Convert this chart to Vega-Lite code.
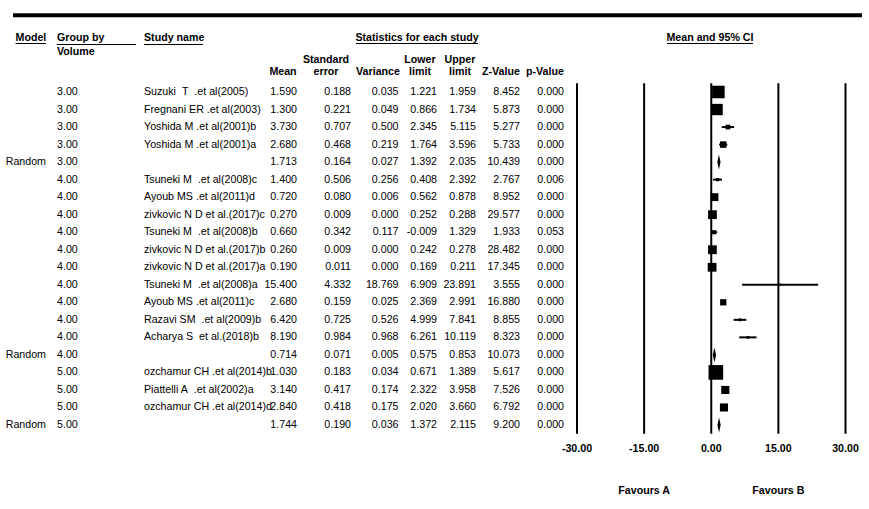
{
"$schema": "https://vega.github.io/schema/vega-lite/v6.json",
"width": 869, "height": 509,
"autosize": {"type": "none"}, "padding": 0, "background": "white",
"config": {
  "view": {"stroke": null},
  "locale": {"number": {"decimal": ".", "thousands": ",", "grouping": [3], "currency": ["$", ""], "minus": "-"}},
  "text": {"font": "Liberation Sans", "fontSize": 10.67, "color": "black", "baseline": "middle"},
  "rule": {"color": "black"}
},
"datasets": {
  "studies": [
    {"row": 1, "model": "", "group": 3, "study": "Suzuki\u00a0\u00a0T\u00a0\u00a0.et al(2005)", "mean": 1.590, "se": 0.188, "variance": 0.035, "lower": 1.221, "upper": 1.959, "z": 8.452, "p": 0.000, "weight": 46.3, "kind": "study"},
    {"row": 2, "model": "", "group": 3, "study": "Fregnani ER .et al(2003)", "mean": 1.300, "se": 0.221, "variance": 0.049, "lower": 0.866, "upper": 1.734, "z": 5.873, "p": 0.000, "weight": 37.4, "kind": "study"},
    {"row": 3, "model": "", "group": 3, "study": "Yoshida M .et al(2001)b", "mean": 3.730, "se": 0.707, "variance": 0.500, "lower": 2.345, "upper": 5.115, "z": 5.277, "p": 0.000, "weight": 5.2, "kind": "study"},
    {"row": 4, "model": "", "group": 3, "study": "Yoshida M .et al(2001)a", "mean": 2.680, "se": 0.468, "variance": 0.219, "lower": 1.764, "upper": 3.596, "z": 5.733, "p": 0.000, "weight": 11.2, "kind": "study"},
    {"row": 5, "model": "Random", "group": 3, "study": "", "mean": 1.713, "se": 0.164, "variance": 0.027, "lower": 1.392, "upper": 2.035, "z": 10.439, "p": 0.000, "weight": null, "kind": "summary"},
    {"row": 6, "model": "", "group": 4, "study": "Tsuneki M\u00a0\u00a0.et al(2008)c", "mean": 1.400, "se": 0.506, "variance": 0.256, "lower": 0.408, "upper": 2.392, "z": 2.767, "p": 0.006, "weight": 1.8, "kind": "study"},
    {"row": 7, "model": "", "group": 4, "study": "Ayoub MS .et al(2011)d", "mean": 0.720, "se": 0.080, "variance": 0.006, "lower": 0.562, "upper": 0.878, "z": 8.952, "p": 0.000, "weight": 17.2, "kind": "study"},
    {"row": 8, "model": "", "group": 4, "study": "zivkovic N D et al.(2017)c", "mean": 0.270, "se": 0.009, "variance": 0.000, "lower": 0.252, "upper": 0.288, "z": 29.577, "p": 0.000, "weight": 21.8, "kind": "study"},
    {"row": 9, "model": "", "group": 4, "study": "Tsuneki M\u00a0\u00a0.et al(2008)b", "mean": 0.660, "se": 0.342, "variance": 0.117, "lower": -0.009, "upper": 1.329, "z": 1.933, "p": 0.053, "weight": 3.6, "kind": "study"},
    {"row": 10, "model": "", "group": 4, "study": "zivkovic N D et al.(2017)b", "mean": 0.260, "se": 0.009, "variance": 0.000, "lower": 0.242, "upper": 0.278, "z": 28.482, "p": 0.000, "weight": 21.8, "kind": "study"},
    {"row": 11, "model": "", "group": 4, "study": "zivkovic N D et al.(2017)a", "mean": 0.190, "se": 0.011, "variance": 0.000, "lower": 0.169, "upper": 0.211, "z": 17.345, "p": 0.000, "weight": 21.8, "kind": "study"},
    {"row": 12, "model": "", "group": 4, "study": "Tsuneki M\u00a0\u00a0.et al(2008)a", "mean": 15.400, "se": 4.332, "variance": 18.769, "lower": 6.909, "upper": 23.891, "z": 3.555, "p": 0.000, "weight": 0.03, "kind": "study"},
    {"row": 13, "model": "", "group": 4, "study": "Ayoub MS .et al(2011)c", "mean": 2.680, "se": 0.159, "variance": 0.025, "lower": 2.369, "upper": 2.991, "z": 16.880, "p": 0.000, "weight": 10.4, "kind": "study"},
    {"row": 14, "model": "", "group": 4, "study": "Razavi SM\u00a0\u00a0.et al(2009)b", "mean": 6.420, "se": 0.725, "variance": 0.526, "lower": 4.999, "upper": 7.841, "z": 8.855, "p": 0.000, "weight": 0.9, "kind": "study"},
    {"row": 15, "model": "", "group": 4, "study": "Acharya S\u00a0\u00a0et al.(2018)b", "mean": 8.190, "se": 0.984, "variance": 0.968, "lower": 6.261, "upper": 10.119, "z": 8.323, "p": 0.000, "weight": 0.5, "kind": "study"},
    {"row": 16, "model": "Random", "group": 4, "study": "", "mean": 0.714, "se": 0.071, "variance": 0.005, "lower": 0.575, "upper": 0.853, "z": 10.073, "p": 0.000, "weight": null, "kind": "summary"},
    {"row": 17, "model": "", "group": 5, "study": "ozchamur CH .et al(2014)b", "mean": 1.030, "se": 0.183, "variance": 0.034, "lower": 0.671, "upper": 1.389, "z": 5.617, "p": 0.000, "weight": 63.3, "kind": "study"},
    {"row": 18, "model": "", "group": 5, "study": "Piattelli A\u00a0\u00a0.et al(2002)a", "mean": 3.140, "se": 0.417, "variance": 0.174, "lower": 2.322, "upper": 3.958, "z": 7.526, "p": 0.000, "weight": 18.4, "kind": "study"},
    {"row": 19, "model": "", "group": 5, "study": "ozchamur CH .et al(2014)d", "mean": 2.840, "se": 0.418, "variance": 0.175, "lower": 2.020, "upper": 3.660, "z": 6.792, "p": 0.000, "weight": 18.3, "kind": "study"},
    {"row": 20, "model": "Random", "group": 5, "study": "", "mean": 1.744, "se": 0.190, "variance": 0.036, "lower": 1.372, "upper": 2.115, "z": 9.200, "p": 0.000, "weight": null, "kind": "summary"}
  ],
  "refs": [{"v": -30}, {"v": -15}, {"v": 0}, {"v": 15}, {"v": 30}]
},
"data": {"name": "studies"},
"layer": [
  {"data": {"values": [{}]}, "mark": {"type": "rule", "strokeWidth": 4}, "encoding": {"x": {"value": 13}, "x2": {"value": 862}, "y": {"value": 15.3}}},
  {"data": {"values": [{}]}, "mark": {"type": "rule", "strokeWidth": 1}, "encoding": {"x": {"value": 15.5}, "x2": {"value": 46}, "y": {"value": 43.5}}},
  {"data": {"values": [{}]}, "mark": {"type": "rule", "strokeWidth": 1}, "encoding": {"x": {"value": 56.7}, "x2": {"value": 136}, "y": {"value": 44.5}}},
  {"data": {"values": [{}]}, "mark": {"type": "rule", "strokeWidth": 1}, "encoding": {"x": {"value": 144}, "x2": {"value": 203}, "y": {"value": 44.5}}},
  {"data": {"values": [{}]}, "mark": {"type": "rule", "strokeWidth": 1}, "encoding": {"x": {"value": 356}, "x2": {"value": 478}, "y": {"value": 43.5}}},
  {"data": {"values": [{}]}, "mark": {"type": "rule", "strokeWidth": 1}, "encoding": {"x": {"value": 667}, "x2": {"value": 753}, "y": {"value": 43.5}}},

  {"data": {"values": [{}]}, "mark": {"type": "text", "fontWeight": "bold", "align": "left"}, "encoding": {"x": {"value": 15.5}, "y": {"value": 37.5}, "text": {"value": "Model"}}},
  {"data": {"values": [{}]}, "mark": {"type": "text", "fontWeight": "bold", "align": "left", "baseline": "top", "lineHeight": 13.4}, "encoding": {"x": {"value": 57}, "y": {"value": 33.2}, "text": {"value": ["Group by", "Volume"]}}},
  {"data": {"values": [{}]}, "mark": {"type": "text", "fontWeight": "bold", "align": "left"}, "encoding": {"x": {"value": 144}, "y": {"value": 37.5}, "text": {"value": "Study name"}}},
  {"data": {"values": [{}]}, "mark": {"type": "text", "fontWeight": "bold", "align": "center"}, "encoding": {"x": {"value": 417}, "y": {"value": 37.5}, "text": {"value": "Statistics for each study"}}},
  {"data": {"values": [{}]}, "mark": {"type": "text", "fontWeight": "bold", "align": "center"}, "encoding": {"x": {"value": 710}, "y": {"value": 37.5}, "text": {"value": "Mean and 95% CI"}}},
  {"data": {"values": [{}]}, "mark": {"type": "text", "fontWeight": "bold", "align": "center"}, "encoding": {"x": {"value": 283}, "y": {"value": 71.7}, "text": {"value": "Mean"}}},
  {"data": {"values": [{}]}, "mark": {"type": "text", "fontWeight": "bold", "align": "center", "baseline": "top", "lineHeight": 12.7}, "encoding": {"x": {"value": 326}, "y": {"value": 54.8}, "text": {"value": ["Standard", "error"]}}},
  {"data": {"values": [{}]}, "mark": {"type": "text", "fontWeight": "bold", "align": "center"}, "encoding": {"x": {"value": 378}, "y": {"value": 71.7}, "text": {"value": "Variance"}}},
  {"data": {"values": [{}]}, "mark": {"type": "text", "fontWeight": "bold", "align": "center", "baseline": "top", "lineHeight": 12.7}, "encoding": {"x": {"value": 420}, "y": {"value": 54.8}, "text": {"value": ["Lower", "limit"]}}},
  {"data": {"values": [{}]}, "mark": {"type": "text", "fontWeight": "bold", "align": "center", "baseline": "top", "lineHeight": 12.7}, "encoding": {"x": {"value": 460}, "y": {"value": 54.8}, "text": {"value": ["Upper", "limit"]}}},
  {"data": {"values": [{}]}, "mark": {"type": "text", "fontWeight": "bold", "align": "center"}, "encoding": {"x": {"value": 501}, "y": {"value": 71.7}, "text": {"value": "Z-Value"}}},
  {"data": {"values": [{}]}, "mark": {"type": "text", "fontWeight": "bold", "align": "center"}, "encoding": {"x": {"value": 545}, "y": {"value": 71.7}, "text": {"value": "p-Value"}}},

  {"mark": {"type": "text", "align": "right"}, "encoding": {"x": {"value": 46}, "y": {"field": "row", "type": "quantitative", "scale": {"domain": [1, 20], "range": [92, 425]}, "axis": null}, "text": {"field": "model", "type": "nominal"}}},
  {"mark": {"type": "text", "align": "left"}, "encoding": {"x": {"value": 57}, "y": {"field": "row", "type": "quantitative", "scale": {"domain": [1, 20], "range": [92, 425]}, "axis": null}, "text": {"field": "group", "type": "quantitative", "format": ".2f"}}},
  {"mark": {"type": "text", "align": "left"}, "encoding": {"x": {"value": 144}, "y": {"field": "row", "type": "quantitative", "scale": {"domain": [1, 20], "range": [92, 425]}, "axis": null}, "text": {"field": "study", "type": "nominal"}}},
  {"mark": {"type": "text", "align": "right"}, "encoding": {"x": {"value": 297}, "y": {"field": "row", "type": "quantitative", "scale": {"domain": [1, 20], "range": [92, 425]}, "axis": null}, "text": {"field": "mean", "type": "quantitative", "format": ".3f"}}},
  {"mark": {"type": "text", "align": "right"}, "encoding": {"x": {"value": 351}, "y": {"field": "row", "type": "quantitative", "scale": {"domain": [1, 20], "range": [92, 425]}, "axis": null}, "text": {"field": "se", "type": "quantitative", "format": ".3f"}}},
  {"mark": {"type": "text", "align": "right"}, "encoding": {"x": {"value": 398.5}, "y": {"field": "row", "type": "quantitative", "scale": {"domain": [1, 20], "range": [92, 425]}, "axis": null}, "text": {"field": "variance", "type": "quantitative", "format": ".3f"}}},
  {"mark": {"type": "text", "align": "right"}, "encoding": {"x": {"value": 437}, "y": {"field": "row", "type": "quantitative", "scale": {"domain": [1, 20], "range": [92, 425]}, "axis": null}, "text": {"field": "lower", "type": "quantitative", "format": ".3f"}}},
  {"mark": {"type": "text", "align": "right"}, "encoding": {"x": {"value": 476}, "y": {"field": "row", "type": "quantitative", "scale": {"domain": [1, 20], "range": [92, 425]}, "axis": null}, "text": {"field": "upper", "type": "quantitative", "format": ".3f"}}},
  {"mark": {"type": "text", "align": "right"}, "encoding": {"x": {"value": 520}, "y": {"field": "row", "type": "quantitative", "scale": {"domain": [1, 20], "range": [92, 425]}, "axis": null}, "text": {"field": "z", "type": "quantitative", "format": ".3f"}}},
  {"mark": {"type": "text", "align": "right"}, "encoding": {"x": {"value": 564}, "y": {"field": "row", "type": "quantitative", "scale": {"domain": [1, 20], "range": [92, 425]}, "axis": null}, "text": {"field": "p", "type": "quantitative", "format": ".3f"}}},

  {"data": {"name": "refs"}, "mark": {"type": "rule", "strokeWidth": 2}, "encoding": {
    "x": {"field": "v", "type": "quantitative", "scale": {"domain": [-30, 30], "range": [577, 845.5], "nice": false, "zero": false}, "axis": null},
    "y": {"datum": 0.5, "type": "quantitative", "scale": {"domain": [1, 20], "range": [92, 425]}, "axis": null},
    "y2": {"datum": 20.5}}},
  {"data": {"name": "refs"}, "mark": {"type": "text", "fontWeight": "bold", "align": "center"}, "encoding": {
    "x": {"field": "v", "type": "quantitative", "scale": {"domain": [-30, 30], "range": [577, 845.5], "nice": false, "zero": false}, "axis": null},
    "y": {"value": 449},
    "text": {"field": "v", "type": "quantitative", "format": ".2f"}}},
  {"transform": [{"filter": "datum.kind === 'study'"}], "mark": {"type": "rule", "strokeWidth": 2}, "encoding": {
    "x": {"field": "lower", "type": "quantitative", "scale": {"domain": [-30, 30], "range": [577, 845.5], "nice": false, "zero": false}, "axis": null},
    "x2": {"field": "upper"},
    "y": {"field": "row", "type": "quantitative", "scale": {"domain": [1, 20], "range": [92, 425]}, "axis": null}}},
  {"transform": [{"filter": "datum.kind === 'study'"}], "mark": {"type": "point", "shape": "square", "filled": true, "opacity": 1, "color": "black", "strokeWidth": 0}, "encoding": {
    "x": {"field": "mean", "type": "quantitative", "scale": {"domain": [-30, 30], "range": [577, 845.5], "nice": false, "zero": false}, "axis": null},
    "y": {"field": "row", "type": "quantitative", "scale": {"domain": [1, 20], "range": [92, 425]}, "axis": null},
    "size": {"field": "weight", "type": "quantitative", "scale": {"domain": [0, 100], "range": [5, 335], "zero": false}, "legend": null}}},
  {"transform": [{"filter": "datum.kind === 'summary'"}], "mark": {"type": "point", "shape": "M0,-1L0.22,0L0,1L-0.22,0Z", "filled": true, "opacity": 1, "color": "black", "strokeWidth": 0, "size": 225}, "encoding": {
    "x": {"field": "mean", "type": "quantitative", "scale": {"domain": [-30, 30], "range": [577, 845.5], "nice": false, "zero": false}, "axis": null},
    "y": {"field": "row", "type": "quantitative", "scale": {"domain": [1, 20], "range": [92, 425]}, "axis": null}}},
  {"data": {"values": [{}]}, "mark": {"type": "text", "fontWeight": "bold", "align": "center"}, "encoding": {"x": {"datum": -15, "type": "quantitative", "scale": {"domain": [-30, 30], "range": [577, 845.5], "nice": false, "zero": false}, "axis": null}, "y": {"value": 491}, "text": {"value": "Favours A"}}},
  {"data": {"values": [{}]}, "mark": {"type": "text", "fontWeight": "bold", "align": "center"}, "encoding": {"x": {"datum": 15, "type": "quantitative", "scale": {"domain": [-30, 30], "range": [577, 845.5], "nice": false, "zero": false}, "axis": null}, "y": {"value": 491}, "text": {"value": "Favours B"}}}
]
}
